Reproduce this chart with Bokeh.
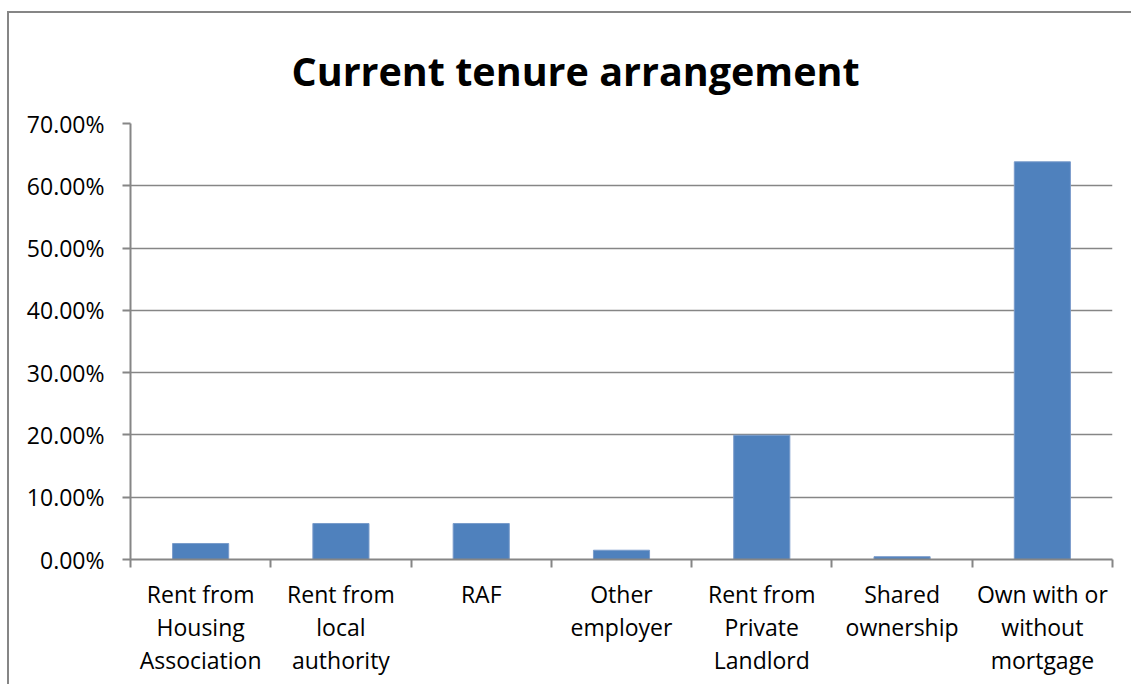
from bokeh.plotting import figure
from bokeh.models import (Range1d, LinearAxis, FixedTicker,
                          NumeralTickFormatter, Title, ColumnDataSource)
from bokeh.embed import file_html
from bokeh.resources import INLINE

categories = [
    "Rent from\nHousing\nAssociation",
    "Rent from\nlocal\nauthority",
    "RAF",
    "Other\nemployer",
    "Rent from\nPrivate\nLandlord",
    "Shared\nownership",
    "Own with or\nwithout\nmortgage",
]
shares = [0.0257, 0.0578, 0.0578, 0.0149, 0.1995, 0.0045, 0.6385]
y_ticks = [0.0, 0.1, 0.2, 0.3, 0.4, 0.5, 0.6, 0.7]
title_text = "Current tenure arrangement"

GRAY = "#868686"
FONT = "Open Sans"

n = len(categories)
centers = [i + 0.5 for i in range(n)]
boundaries = list(range(n + 1))

source = ColumnDataSource(data=dict(x=centers, cat=categories, share=shares))

p = figure(
    x_range=Range1d(0, n),
    y_range=Range1d(0, 0.7),
    width=1124, height=681,
    output_backend="svg",
    toolbar_location=None,
    x_axis_location=None,
    min_border_left=123, min_border_right=19,
    min_border_top=120, min_border_bottom=125,
)
line_img = "linear-gradient(#868686, #868686)"
p.styles = {
    "margin-top": "3px", "margin-left": "7px",
    "background": (line_img + " 0px 8px / 100% 2px no-repeat, "
                   + line_img + " 0px 8px / 2px 100% no-repeat, white"),
}
p.outline_line_color = None
p.background_fill_color = "white"
p.border_fill_color = None
p.xgrid.visible = False

p.vbar(x="x", top="share", width=0.4, source=source,
       fill_color="#4F81BD", line_color="#7A9CCB", line_width=1)

# y axis
yax = p.yaxis[0]
yax.ticker = FixedTicker(ticks=y_ticks)
yax.formatter = NumeralTickFormatter(format="0.00%")
yax.axis_line_color = GRAY
yax.axis_line_width = 2
yax.major_tick_line_color = GRAY
yax.major_tick_line_width = 2
yax.major_tick_out = 8
yax.major_tick_in = 0
yax.minor_tick_out = 0
yax.minor_tick_in = 0
yax.major_label_standoff = 18
yax.major_label_text_font = FONT
yax.major_label_text_font_size = "23px"
yax.major_label_text_color = "#000000"

p.ygrid.ticker = FixedTicker(ticks=y_ticks)
p.ygrid.grid_line_color = GRAY
p.ygrid.grid_line_width = 1.5

# boundary tick axis (closest to the frame)
tick_axis = LinearAxis(
    ticker=FixedTicker(ticks=boundaries),
    axis_line_color=GRAY, axis_line_width=2,
    major_tick_line_color=GRAY, major_tick_line_width=2,
    major_tick_out=8, major_tick_in=0,
    minor_tick_out=0, minor_tick_in=0,
    major_label_text_font_size="0px", major_label_text_alpha=0,
    major_label_standoff=0,
)
p.add_layout(tick_axis, "below")

# category label axis
cat_axis = LinearAxis(
    ticker=FixedTicker(ticks=centers),
    major_label_overrides={c: lab for c, lab in zip(centers, categories)},
    axis_line_color=None,
    major_tick_out=0, major_tick_in=0,
    minor_tick_out=0, minor_tick_in=0,
    major_label_standoff=10,
    major_label_text_font=FONT,
    major_label_text_font_size="23px",
    major_label_text_color="#000000",
    major_label_text_line_height=1.04,
)
p.add_layout(cat_axis, "below")

p.title = Title(text=title_text, align="left", offset=161, standoff=52,
                text_font=FONT, text_font_size="39.5px", text_font_style="bold",
                text_color="#000000")

open("out.html", "w").write(file_html(p, INLINE))
